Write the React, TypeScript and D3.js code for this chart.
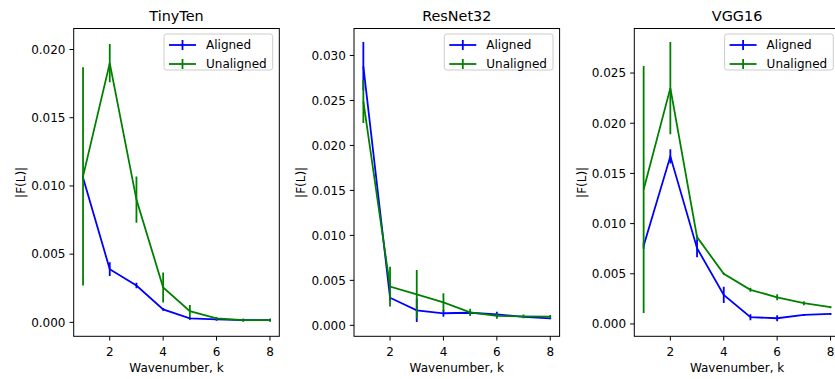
import React from "react";
import * as d3 from "d3";

const wavenumbers = [1, 2, 3, 4, 5, 6, 7, 8];
const xTicks = [2, 4, 6, 8];
const panelTitles = ["TinyTen", "ResNet32", "VGG16"];
const seriesNames = ["Aligned", "Unaligned"];

const tinyAligned = [0.0106, 0.0039, 0.0027, 0.00095, 0.0003, 0.00022, 0.00017, 0.00017];
const tinyAlignedErr = [0.0002, 0.0005, 0.0002, 0.0001, 0.0001, 0.0001, 0.0001, 0.0001];
const tinyUnaligned = [0.0107, 0.019, 0.009, 0.00256, 0.00082, 0.0003, 0.00017, 0.00017];
const tinyUnalignedErr = [0.008, 0.0014, 0.0017, 0.0011, 0.00045, 0.0001, 0.0001, 0.0001];
const tinyYTicks = [0, 0.005, 0.01, 0.015, 0.02];

const resAligned = [0.0288, 0.00307, 0.00167, 0.00134, 0.0014, 0.00122, 0.00095, 0.00078];
const resAlignedErr = [0.0027, 0.0003, 0.0013, 0.0004, 0.0002, 0.0003, 0.0001, 0.0001];
const resUnaligned = [0.0249, 0.0043, 0.00345, 0.00256, 0.00145, 0.00104, 0.001, 0.00096];
const resUnalignedErr = [0.0024, 0.0022, 0.0027, 0.001, 0.0004, 0.0003, 0.0002, 0.0002];
const resYTicks = [0, 0.005, 0.01, 0.015, 0.02, 0.025, 0.03];

const vggAligned = [0.0078, 0.0167, 0.00755, 0.0029, 0.00067, 0.00057, 0.0009, 0.001];
const vggAlignedErr = [0.0003, 0.0007, 0.0009, 0.0008, 0.0003, 0.0003, 0.0001, 0.0001];
const vggUnaligned = [0.0134, 0.0235, 0.00865, 0.005, 0.0034, 0.00266, 0.00207, 0.00167];
const vggUnalignedErr = [0.0123, 0.0046, 0.0002, 0.0001, 0.0002, 0.0003, 0.0002, 0.0001];
const vggYTicks = [0, 0.005, 0.01, 0.015, 0.02, 0.025];

const COLORS = ["#0000ff", "#008000"];
const FONT = "'DejaVu Sans', sans-serif";
const LW = 1.8;

const panels = [
  { title: panelTitles[0], left: 73.7, yDomain: [-0.00102, 0.02154], yTicks: tinyYTicks,
    series: [[tinyAligned, tinyAlignedErr], [tinyUnaligned, tinyUnalignedErr]] },
  { title: panelTitles[1], left: 354, yDomain: [-0.00122, 0.033], yTicks: resYTicks,
    series: [[resAligned, resAlignedErr], [resUnaligned, resUnalignedErr]] },
  { title: panelTitles[2], left: 634.3, yDomain: [-0.00123, 0.02944], yTicks: vggYTicks,
    series: [[vggAligned, vggAlignedErr], [vggUnaligned, vggUnalignedErr]] },
];

const TOP = 28.5;
const BOTTOM = 336.3;
const WIDTH = 205.6;

function Panel({ p }: { p: any }) {
  const x = d3.scaleLinear().domain([0.65, 8.35]).range([p.left, p.left + WIDTH]);
  const y = d3.scaleLinear().domain(p.yDomain).range([BOTTOM, TOP]);
  const line = d3
    .line<number>()
    .x((_, i) => x(wavenumbers[i]))
    .y((d) => y(d));
  const cx = p.left + WIDTH / 2;
  const lgRight = p.left + WIDTH - 6.6;
  const lgLeft = lgRight - 108.7;
  const lgTop = TOP + 5.5;
  return (
    <g>
      <defs>
        <clipPath id={`clip-${p.title}`}>
          <rect x={p.left} y={TOP} width={WIDTH} height={BOTTOM - TOP} />
        </clipPath>
      </defs>
      <g clipPath={`url(#clip-${p.title})`}>
        {p.series.map(([vals, errs]: number[][], si: number) => (
          <g key={si}>
            <path d={line(vals) || ""} fill="none" stroke={COLORS[si]} strokeWidth={LW} />
            {vals.map((v: number, i: number) => (
              <line
                key={i}
                x1={x(wavenumbers[i])}
                x2={x(wavenumbers[i])}
                y1={y(v - errs[i])}
                y2={y(v + errs[i])}
                stroke={COLORS[si]}
                strokeWidth={LW}
              />
            ))}
          </g>
        ))}
      </g>
      <rect x={p.left} y={TOP} width={WIDTH} height={BOTTOM - TOP} fill="none" stroke="#000" strokeWidth={1} />
      {p.yTicks.map((t: number) => (
        <g key={t}>
          <line x1={p.left - 4.2} x2={p.left} y1={y(t)} y2={y(t)} stroke="#000" strokeWidth={1} />
          <text x={p.left - 8.2} y={y(t)} dy="0.36em" textAnchor="end" fontSize={12} fontFamily={FONT} fill="#000">
            {d3.format(".3f")(t)}
          </text>
        </g>
      ))}
      {xTicks.map((t) => (
        <g key={t}>
          <line x1={x(t)} x2={x(t)} y1={BOTTOM} y2={BOTTOM + 4.2} stroke="#000" strokeWidth={1} />
          <text x={x(t)} y={BOTTOM + 19.5} textAnchor="middle" fontSize={12} fontFamily={FONT} fill="#000">
            {t}
          </text>
        </g>
      ))}
      <text x={cx} y={372} textAnchor="middle" fontSize={12} fontFamily={FONT} fill="#000">
        Wavenumber, k
      </text>
      <text
        transform={`translate(${p.left - 48.8},${(TOP + BOTTOM) / 2}) rotate(-90)`}
        textAnchor="middle"
        fontSize={12}
        fontFamily={FONT}
        fill="#000"
      >
        |F(L)|
      </text>
      <text x={cx} y={21.3} textAnchor="middle" fontSize={14.4} fontFamily={FONT} fill="#000">
        {p.title}
      </text>
      <rect x={lgLeft} y={lgTop} width={108.7} height={36} rx={2.5} fill="#fff" fillOpacity={0.8} stroke="#cccccc" strokeWidth={1} />
      {seriesNames.map((name, si) => {
        const ry = lgTop + 11 + si * 19;
        return (
          <g key={name}>
            <line x1={lgLeft + 5} x2={lgLeft + 32} y1={ry} y2={ry} stroke={COLORS[si]} strokeWidth={LW} />
            <line x1={lgLeft + 18.5} x2={lgLeft + 18.5} y1={ry - 5} y2={ry + 5} stroke={COLORS[si]} strokeWidth={LW} />
            <text x={lgLeft + 42} y={ry} dy="0.36em" fontSize={12} fontFamily={FONT} fill="#000">
              {name}
            </text>
          </g>
        );
      })}
    </g>
  );
}

export default function App() {
  return (
    <svg
      width={835}
      height={379}
      style={{ position: "absolute", left: 0, top: 0, background: "#fff" }}
    >
      <rect width={835} height={379} fill="#fff" />
      {panels.map((p) => (
        <Panel key={p.title} p={p} />
      ))}
    </svg>
  );
}
